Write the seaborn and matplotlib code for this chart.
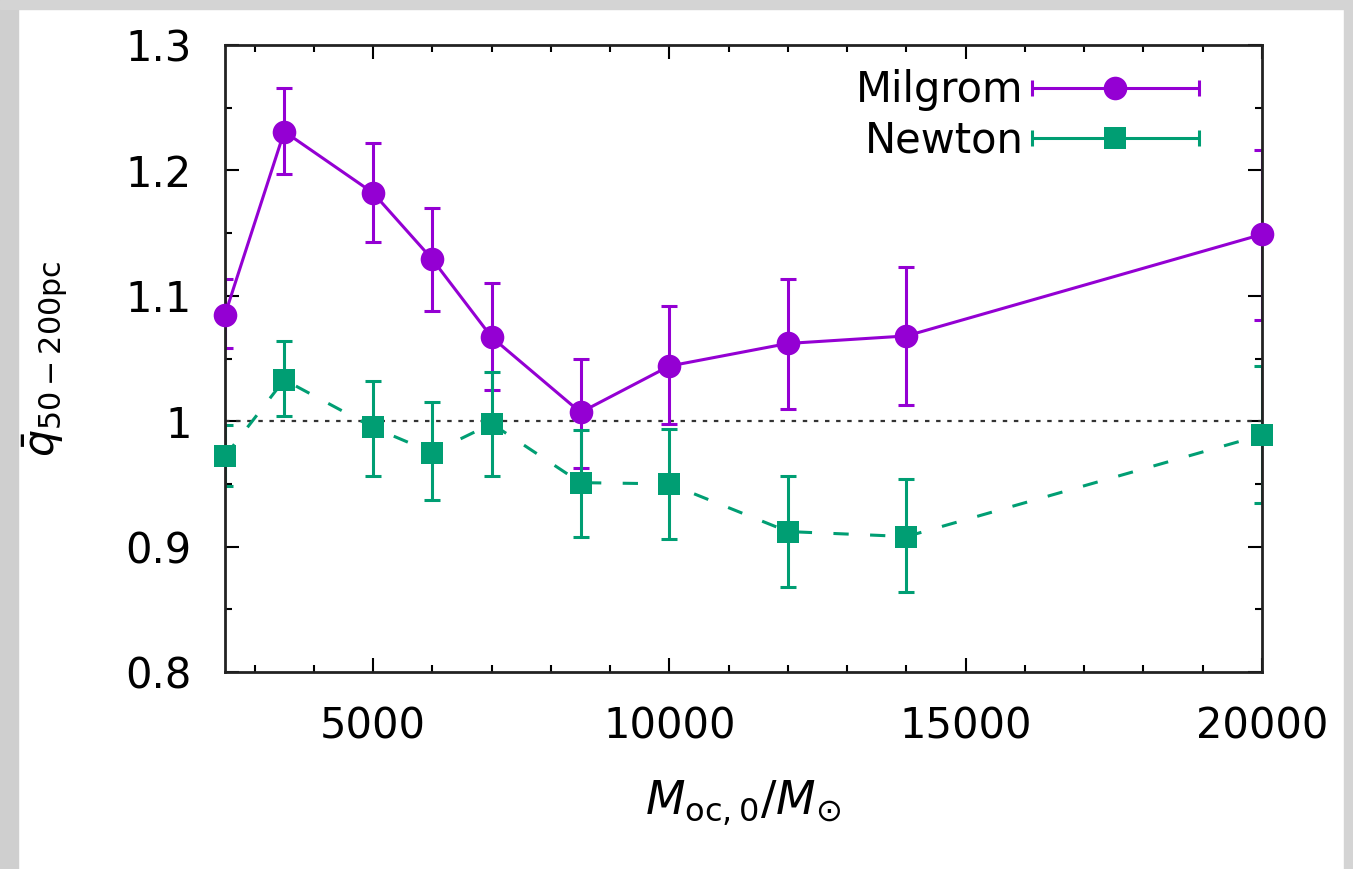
import numpy as np
import pandas as pd
import matplotlib
matplotlib.use("Agg")
import matplotlib.pyplot as plt
import seaborn as sns
from matplotlib.lines import Line2D
from matplotlib.legend_handler import HandlerBase
from matplotlib.patches import Rectangle
from matplotlib.ticker import MultipleLocator

# ---- data ----
mass = [2500, 3500, 5000, 6000, 7000, 8500, 10000, 12000, 14000, 20000]
milgrom = [1.085, 1.231, 1.182, 1.129, 1.067, 1.007, 1.044, 1.062, 1.068, 1.149]
milgrom_lo = [1.058, 1.197, 1.143, 1.088, 1.025, 0.963, 0.998, 1.010, 1.013, 1.081]
milgrom_hi = [1.113, 1.266, 1.222, 1.170, 1.110, 1.050, 1.092, 1.113, 1.123, 1.216]
newton = [0.972, 1.033, 0.995, 0.975, 0.998, 0.951, 0.950, 0.912, 0.908, 0.989]
newton_lo = [0.948, 1.004, 0.956, 0.937, 0.956, 0.908, 0.906, 0.868, 0.864, 0.935]
newton_hi = [0.997, 1.064, 1.032, 1.015, 1.039, 0.993, 0.994, 0.956, 0.954, 1.044]
series_names = ["Milgrom", "Newton"]
xticks = [5000, 10000, 15000, 20000]
yticks = [0.8, 0.9, 1.0, 1.1, 1.2, 1.3]
yticklabels = ["0.8", "0.9", "1", "1.1", "1.2", "1.3"]

purple = "#9400D3"
green = "#009E73"

sns.set_style("ticks")
plt.rcParams["font.family"] = ["DejaVu Sans"]
plt.rcParams["mathtext.fontset"] = "dejavusans"
for k in ["text.color", "axes.labelcolor", "xtick.color", "ytick.color", "axes.edgecolor"]:
    plt.rcParams[k] = "black"

fig = plt.figure(figsize=(13.53, 8.69), dpi=100)
ax = fig.add_axes([225 / 1353, 1 - 672 / 869, (1262 - 225) / 1353, (672 - 45) / 869])

df = pd.DataFrame({
    "mass": mass * 2,
    "q": milgrom + newton,
    "lo": milgrom_lo + newton_lo,
    "hi": milgrom_hi + newton_hi,
    "model": [series_names[0]] * len(mass) + [series_names[1]] * len(mass),
})

# reference line at 1
ax.axhline(1.0, color="#333333", lw=1.6, ls=(0, (2, 3)), zorder=1)

styles = {
    "Milgrom": dict(color=purple, marker="o", ms=17, dashes=None),
    "Newton": dict(color=green, marker="s", ms=16, dashes=(5, 7)),
}
for name in series_names:
    d = df[df.model == name]
    st = styles[name]
    ax.errorbar(d["mass"], d["q"],
                yerr=[d["q"] - d["lo"], d["hi"] - d["q"]],
                fmt="none", ecolor=st["color"], elinewidth=2.2,
                capsize=5.5, capthick=2.2, zorder=2)
    sns.lineplot(data=d, x="mass", y="q", ax=ax, color=st["color"], lw=2.2,
                 marker=st["marker"], markersize=st["ms"], markeredgewidth=0,
                 legend=False, zorder=3, sort=False)
    ln = ax.lines[-1]
    ln.set_clip_on(False)
    if st["dashes"] is not None:
        ln.set_dashes(st["dashes"])


class CapHandler(HandlerBase):
    def __init__(self, color, marker, ms):
        super().__init__()
        self.color = color
        self.marker = marker
        self.ms = ms

    def create_artists(self, legend, orig_handle, xdescent, ydescent, width,
                       height, fontsize, trans):
        y = height / 2 - ydescent
        x0, x1 = -xdescent, width - xdescent
        line = Line2D([x0, x1], [y, y], color=self.color, lw=2.2)
        caps = Line2D([x0, x1], [y, y], ls="", marker="|", ms=12,
                      mew=2.2, color=self.color)
        mk = Line2D([(x0 + x1) / 2], [y], ls="", marker=self.marker, ms=self.ms,
                    mew=0, color=self.color)
        for a in (line, caps, mk):
            a.set_transform(trans)
        return [line, caps, mk]


h1 = Line2D([], [], color=purple)
h2 = Line2D([], [], color=green)
leg = ax.legend([h1, h2], series_names,
                handler_map={h1: CapHandler(purple, "o", 17), h2: CapHandler(green, "s", 16)},
                loc="upper right", bbox_to_anchor=(0.967, 1.008), frameon=False,
                markerfirst=False, fontsize=30, handlelength=4.0,
                handletextpad=0.2, labelspacing=0.2, borderaxespad=0.3)

ax.set_xlim(2500, 20000)
ax.set_ylim(0.8, 1.3)
ax.set_xticks(xticks)
ax.set_xticklabels([str(t) for t in xticks])
ax.set_yticks(yticks)
ax.set_yticklabels(yticklabels)
ax.xaxis.set_minor_locator(MultipleLocator(1000))
ax.yaxis.set_minor_locator(MultipleLocator(0.05))
ax.tick_params(which="both", direction="in", top=True, right=True, width=1.5,
               color="black")
ax.tick_params(which="major", length=10)
ax.tick_params(which="minor", length=5)
ax.tick_params(axis="y", which="major", labelsize=30, pad=24)
ax.tick_params(axis="x", which="major", labelsize=30, pad=24)

for sp in ax.spines.values():
    sp.set_linewidth(2.0)
    sp.set_color("#222222")

ax.set_xlabel(r"$M_{\mathrm{oc},0}/M_{\odot}$", fontsize=33, labelpad=22)
ax.set_ylabel(r"$\bar{q}_{50-200\mathrm{pc}}$", fontsize=31, labelpad=40)

# screenshot frame
fig.patches.append(Rectangle((0, 0), 18 / 1353, 1, transform=fig.transFigure,
                             color="#cfcfcf", zorder=-1))
fig.patches.append(Rectangle((0, 1 - 9 / 869), 1, 9 / 869, transform=fig.transFigure,
                             color="#d4d4d4", zorder=-1))
fig.patches.append(Rectangle((1 - 9 / 1353, 0), 9 / 1353, 1, transform=fig.transFigure,
                             color="#d4d4d4", zorder=-1))

fig.savefig("out.png", dpi=100)
